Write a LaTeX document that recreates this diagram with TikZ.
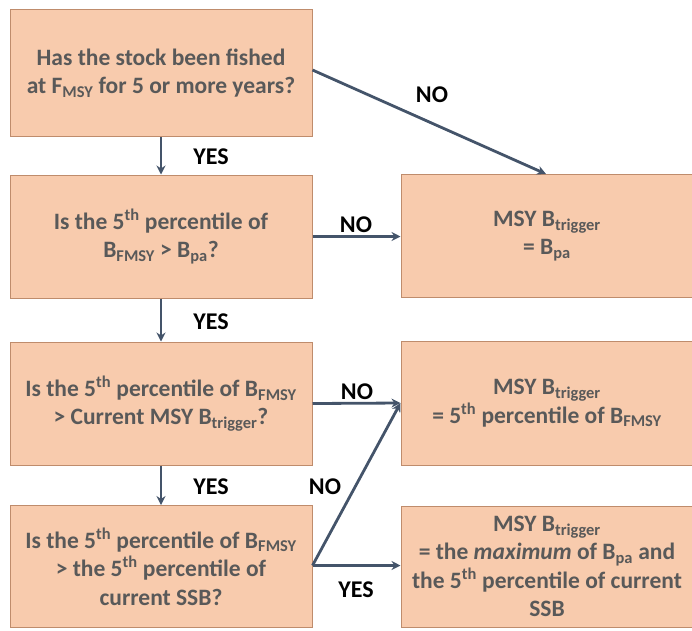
\documentclass[tikz,border=0pt]{standalone}
\usepackage{fontspec}
\setmainfont{Carlito}
\usetikzlibrary{arrows.meta}
\definecolor{boxfill}{HTML}{F8CBAD}
\definecolor{boxline}{HTML}{BF8C6C}
\definecolor{boxtext}{HTML}{595959}
\definecolor{arrowcol}{HTML}{44546A}
\newcommand{\lo}[1]{\textsubscript{#1}}
\newcommand{\hi}[1]{\textsuperscript{#1}}
\begin{document}
\begin{tikzpicture}[x=1pt,y=-1pt,
  box/.style={draw=boxline, line width=1pt, fill=boxfill, text=boxtext,
    font=\fontsize{23.5}{28.5}\selectfont\bfseries, align=center, inner sep=0pt,
    minimum height=123pt},
  lbox/.style={box, minimum width=302pt},
  rbox/.style={box, minimum width=292pt},
  conn/.style={draw=arrowcol, line width=2.8pt, -{Stealth[length=9pt,width=9pt]}},
  lbl/.style={font=\fontsize{24}{26}\selectfont\bfseries, text=black}]
\useasboundingbox (0,0) rectangle (692,630);

\node[lbox, minimum height=127pt] (q1) at (161,73) {Has the stock been fished\\at F\lo{MSY} for 5 or more years?};
\node[lbox] (q2) at (161,236.5) {Is the 5\hi{th} percentile of\\B\lo{FMSY} > B\lo{pa}?};
\node[lbox] (q3) at (161,403.5) {Is the 5\hi{th} percentile of B\lo{FMSY}\\> Current MSY B\lo{trigger}?};
\node[lbox, minimum height=122pt] (q4) at (161,566.5) {Is the 5\hi{th} percentile of B\lo{FMSY}\\> the 5\hi{th} percentile of\\current SSB?};

\node[rbox] (r1) at (547,236) {MSY B\lo{trigger}\\= B\lo{pa}};
\node[rbox, minimum height=124pt] (r2) at (547,403) {MSY B\lo{trigger}\\= 5\hi{th} percentile of B\lo{FMSY}};
\node[rbox, minimum height=121pt] (r3) at (547,566.5) {MSY B\lo{trigger}\\= the \textit{maximum} of B\lo{pa} and\\the 5\hi{th} percentile of current\\SSB};

% vertical YES arrows
\draw[conn] (q1.south) -- (q2.north);
\draw[conn] (q2.south) -- (q3.north);
\draw[conn] (q3.south) -- (q4.north);
\node[lbl] (y1) at (211,157) {YES};
\node[lbl] (y2) at (211,322) {YES};
\node[lbl] (y3) at (211,487) {YES};

% NO / YES arrows to the outcomes
\coordinate (s1) at ([yshift=3pt]q1.east);
\coordinate (t1) at ([xshift=-1pt]r1.north);
\draw[conn] (s1) -- (t1);
\node[lbl] (n1) at (432,95) {NO};

\draw[conn] (q2.east) -- (q2.east -| r1.west);
\node[lbl] (n2) at (356,225) {NO};

\coordinate (s4) at ([yshift=1pt]q4.east);
\draw[conn] (q3.east) -- (r2.west);
\node[lbl] (n3) at (357,392) {NO};
\draw[conn] (s4) -- (r2.west);
\node[lbl] (n4) at (325,487) {NO};

\draw[conn] (s4) -- (s4 -| r3.west);
\node[lbl] (y4) at (356,590) {YES};
\end{tikzpicture}
\end{document}
